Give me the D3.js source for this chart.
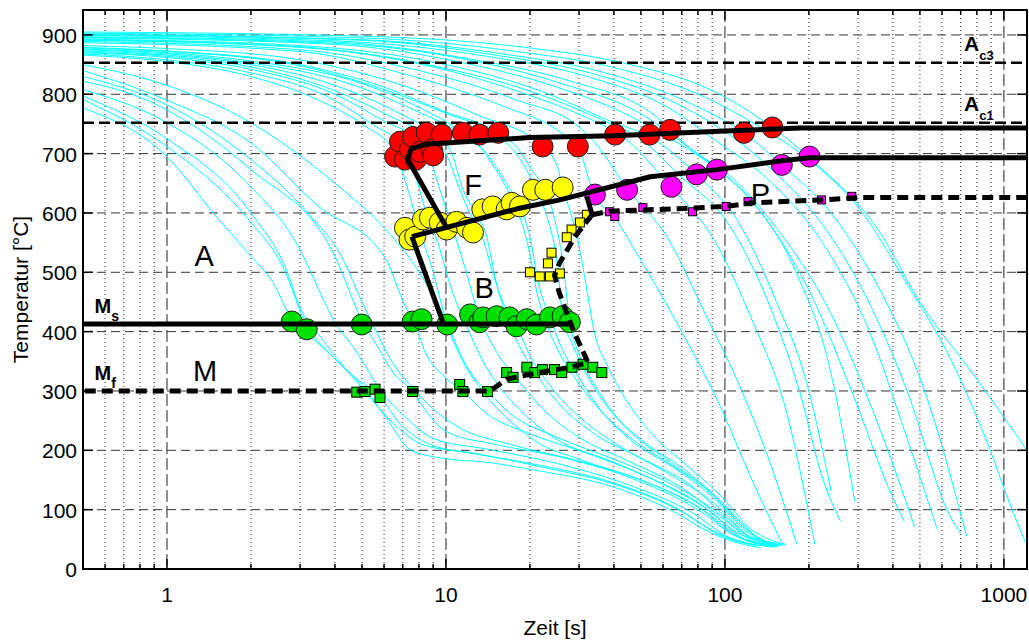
<!DOCTYPE html>
<html>
<head>
<meta charset="utf-8">
<script src="https://cdn.jsdelivr.net/npm/d3@7"></script>
<style>
body { margin: 0; background: #fff; }
svg { font-family: "Liberation Sans", Arial, sans-serif; }
</style>
</head>
<body>
<div id="chart"></div>
<script>
// ---- axes ----
var timeTicks = [1, 10, 100, 1000];
var tempTicks = [0, 100, 200, 300, 400, 500, 600, 700, 800, 900];
var xLabel = "Zeit [s]";
var yLabel = "Temperatur [°C]";

// ---- critical temperatures ----
var ac3 = 853;
var ac1 = 752;

// ---- measured points [time s, temperature °C] ----
var ferriteStartPts = [[6.57,695],[6.84,720],[7.13,690],[7.43,707],[7.62,728],[7.8,690],[8.06,703],[8.53,735],[8.91,707],[9.0,697],[9.66,732],[11.5,735],[13.2,732],[15.4,735],[22.2,712],[29.7,712],[40.4,732],[53.7,732],[63.6,740],[117,735],[148,744]];
var ferriteEndPts = [[7.13,575],[7.4,555],[7.76,560],[8.27,589],[8.76,592],[9.5,584],[10.06,572],[10.9,585],[11.9,575],[12.5,567],[13.5,606],[14.7,611],[16.5,606],[17.2,617],[18.4,611],[20.5,639],[22.7,639],[26.2,643]];
var pearliteStartPts = [[34.2,631],[44.6,639],[64.3,644],[79.2,665],[93.6,673],[160,681],[201,695]];
var pearliteEndPts = [[38.6,602],[40.3,594],[50.8,609],[76.5,602],[101,611],[121,619],[222,622],[285,628]];
var bainiteEndPts = [[32,597],[30.2,584],[28.2,572],[27.1,559],[23.9,533],[23.2,515],[20,500],[21.7,493],[23.6,493],[25.6,498]];
var martStartPts = [[2.8,417],[3.17,404],[4.99,412],[7.6,417],[8.18,421],[10.1,412],[12.2,429],[13.2,416],[13.6,424],[15.2,426],[16.9,424],[17.9,409],[19.5,421],[21.1,412],[23.6,424],[26.2,426],[27.8,416]];
var martEndPts = [[4.79,298],[5.12,299],[5.57,303],[5.8,289],[7.6,299],[11.2,311],[11.5,299],[14.1,299],[16.5,331],[17.4,323],[19.5,340],[20.8,331],[22.2,336],[24.5,336],[26,331],[28.3,340],[31,345],[33.6,340],[36.2,331]];

// ---- transformation lines ----
var fStartLine = [[10.0,577],[7.3,690],[7.5,708],[8.5,716],[10,718],[20,727],[40,730],[100,738],[186,743],[1210,743]];
var pStartLine = [[7.55,560],[18,607],[25.6,622],[54,661],[94,673],[160,688],[201,693],[1210,693]];
var pStartDrop = [[32,628],[33.4,597]];
var bStartLine = [[7.55,560],[9.8,413]];
var msLine = [[0.5,413],[28,413]];
var pFinishLine = [[33.4,597],[38.6,603],[58.5,606],[101,611],[125,617],[222,622],[305,626],[1210,626]];
var bFinishLine = [[33.4,597],[29,560],[25.5,515],[24.5,495],[25.5,465],[28.5,404],[32.3,348],[28,340],[22.7,333],[16.5,320],[14.4,300],[0.5,300]];

// ---- cooling curves [time s, temperature °C] ----
var coolingCurves = [
  [[0.5,777],[1,695],[1.5,594],[2,527],[2.4,483],[2.8,420],[3.4,385],[4.3,340],[5.2,300],[6.2,250],[7.5,200],[10,186],[14,180],[20,168],[40,138],[63,101],[90,60],[120,40],[135,36]],
  [[0.5,791],[1,712],[2,584],[2.6,510],[3.17,410],[3.8,365],[4.8,320],[5.6,298],[7,240],[9,208],[13,194],[22,172],[42,140],[68,100],[98,55],[130,39]],
  [[0.5,797],[1,725],[2,600],[2.7,500],[3.0,440],[3.5,395],[4.5,330],[5.1,300],[6.5,245],[8.2,210],[12,196],[20,178],[40,145],[65,106],[95,60],[128,40]],
  [[0.5,808],[1,752],[2,644],[3,538],[3.5,471],[3.9,425],[4.8,365],[5.8,303],[7.2,255],[9,220],[14,202],[25,178],[45,142],[75,97],[105,52],[150,37]],
  [[0.5,822],[0.8,795],[2,673],[4,527],[4.99,420],[5.6,380],[6.5,330],[7.6,299],[8.6,262],[10,232],[15,210],[25,190],[45,155],[80,100],[110,55],[155,40]],
  [[0.5,830],[1,782],[2,690],[3.2,600],[4.3,520],[5,450],[5.5,410],[6.3,355],[7.6,305],[9,270],[11,240],[17,210],[30,182],[52,147],[85,97],[115,52],[150,39]],
  [[0.5,840],[1,790],[2,718],[3.5,611],[6,527],[7.2,440],[7.7,415],[8.5,362],[10,322],[11.5,299],[14,262],[20,228],[32,195],[50,160],[80,112],[112,60],[160,40]],
  [[0.5,850],[1,815],[2,752],[4,650],[6,575],[7.5,520],[9,460],[10.1,415],[11.2,365],[12.5,325],[14.1,299],[17,262],[25,222],[40,185],[60,150],[90,102],[122,55],[165,42]],
  [[0.5,866],[1,855],[2,830],[3.5,790],[5,750],[6.6,700],[7.3,640],[8,575],[9,500],[10.1,412],[11.5,350],[13.5,300],[16.5,255],[21,215],[30,185],[50,150],[80,105],[110,55],[145,38]],
  [[0.5,868],[1,858],[2,836],[3.8,795],[5.5,748],[7,712],[7.8,660],[8.5,600],[9.2,560],[10.5,470],[11.8,412],[13.5,352],[15.5,308],[19,262],[25,218],[38,184],[58,146],[88,98],[118,50],[148,38]],
  [[0.5,870],[1,862],[2,842],[4,800],[6,755],[7.6,728],[8.8,690],[9.5,640],[10.3,590],[11.5,520],[13.2,424],[15,370],[18,320],[22,272],[30,222],[45,182],[70,137],[100,82],[130,43],[150,37]],
  [[0.5,871],[1,864],[2,846],[4,806],[6.5,760],[8.5,732],[10,700],[11,650],[12,606],[13.5,560],[14.7,500],[16,450],[17.9,409],[20,360],[24,305],[30,257],[42,207],[62,162],[92,110],[122,55],[152,39]],
  [[0.5,873],[1,866],[2,850],[4,815],[7,765],[9,735],[10.5,700],[11.5,640],[12.5,606],[14,560],[15.2,480],[16.5,424],[18.5,372],[21,330],[25,282],[33,232],[50,187],[75,142],[105,80],[135,42],[155,38]],
  [[0.5,875],[1,868],[2,853],[4.5,818],[8,770],[11,738],[13,715],[15,675],[17,630],[18.5,590],[20,530],[21.1,470],[22.5,424],[25,372],[29,322],[35,272],[45,224],[62,180],[88,130],[118,68],[150,40]],
  [[0.5,876],[1,870],[2,856],[5,818],[8,778],[11.5,735],[14,700],[16.5,650],[18.4,611],[20,560],[21.5,480],[23.6,424],[26,372],[30,322],[36,267],[46,217],[65,172],[90,122],[120,62],[150,40]],
  [[0.5,878],[1,872],[3,848],[6,808],[10,768],[14,740],[17.5,705],[19.5,672],[21.5,630],[23.5,580],[25,520],[26.2,426],[28.5,377],[32,327],[37,280],[46,230],[62,184],[85,137],[115,77],[145,42],[162,40]],
  [[0.5,879],[1,873],[3,850],[6,812],[10,770],[15.4,735],[18,710],[20.5,670],[22.7,639],[24.5,590],[26.2,520],[27.8,416],[30,362],[34,312],[40,262],[52,212],[72,167],[98,112],[128,56],[160,40]],
  [[0.5,882],[1,877],[3,858],[7,815],[13,765],[22.2,712],[25,680],[26.2,643],[28,600],[30,545],[32,470],[34,400],[38,342],[44,287],[55,227],[72,177],[95,127],[125,66],[165,41]],
  [[0.5,887],[3,872],[7,835],[16,780],[26,735],[29.7,712],[34,631],[40,594],[50,520],[70,400],[95,280],[125,150],[160,44]],
  [[0.5,889],[3,875],[8,840],[18,790],[30,745],[34,720],[45,639],[62,560],[85,430],[115,300],[150,160],[181,42]],
  [[0.5,891],[3,879],[9,846],[20,798],[34,755],[42,732],[64,644],[90,560],[125,420],[165,270],[210,42]],
  [[0.5,892],[3,880],[9,848],[21,802],[37,755],[48,730],[70,660],[100,590],[140,460],[185,300],[225,150],[260,80]],
  [[0.5,893],[3,882],[10,850],[22,805],[40,752],[54,728],[79,665],[110,590],[150,460],[200,300],[240,131]],
  [[0.5,895],[4,884],[11,855],[25,812],[45,765],[64,725],[94,673],[125,620],[180,500],[240,330],[292,114]],
  [[0.5,896],[4,886],[12,858],[26,818],[50,767],[72,715],[96,672],[135,600],[200,470],[290,290],[400,120],[440,80]],
  [[0.5,897],[4,888],[12,860],[28,822],[54,770],[79,700],[101,668],[150,580],[240,430],[350,250],[479,71]],
  [[0.5,899],[4,890],[14,864],[32,830],[64,775],[94,720],[140,660],[220,555],[330,400],[450,220],[577,67]],
  [[0.5,900],[5,891],[15,866],[34,834],[70,780],[105,730],[150,670],[220,585],[320,460],[450,300],[640,90],[700,60]],
  [[0.5,901],[5,892],[16,868],[36,838],[75,785],[117,735],[160,681],[240,600],[360,470],[520,300],[735,56]],
  [[0.5,903],[5,895],[18,872],[40,845],[85,795],[130,748],[200,690],[300,610],[450,480],[650,350],[890,202],[1050,110],[1195,45]],
  [[0.5,905],[5,898],[20,878],[43,853],[94,802],[148,744],[218,678],[354,572],[500,450],[800,320],[1210,200]]
];

// ---- phase labels [text, time, temperature] ----
var phaseLabels = [["A",1.36,528],["F",12.5,647],["B",13.7,474],["M",1.37,335],["P",134,632]];

var margin = { top: 10, right: 2, bottom: 73, left: 83 };
var canvas = { screenWidth: 1029, screenHeight: 642 };
var width = canvas.screenWidth - margin.left - margin.right;
var height = canvas.screenHeight - margin.top - margin.bottom;

var svg = d3.select("#chart").append("svg")
    .attr("width", canvas.screenWidth)
    .attr("height", canvas.screenHeight);

var chartGroup = svg.append("g")
    .attr("transform", `translate(${margin.left}, ${margin.top})`);

var xScale = d3.scaleLog().domain([0.5, 1210]).range([0, width]);
var yScale = d3.scaleLinear().domain([0, 942]).range([height, 0]);

svg.append("defs").append("clipPath").attr("id", "plotClip")
    .append("rect").attr("width", width).attr("height", height);

// minor decade positions (2..9)
var minorTicks = [];
[0.1, 1, 10, 100, 1000].forEach(function (dec) {
    for (var m = 2; m <= 9; m++) {
        var v = m * dec;
        if (v > 0.5 && v < 1210) minorTicks.push(v);
    }
});

// grid
var grid = chartGroup.append("g");
grid.selectAll(".vminor").data(minorTicks).enter().append("line")
    .attr("x1", d => xScale(d)).attr("x2", d => xScale(d))
    .attr("y1", 0).attr("y2", height)
    .attr("stroke", "#222").attr("stroke-width", 1)
    .attr("stroke-dasharray", "1,3");
grid.selectAll(".vmajor").data(timeTicks).enter().append("line")
    .attr("x1", d => xScale(d)).attr("x2", d => xScale(d))
    .attr("y1", 0).attr("y2", height)
    .attr("stroke", "#222").attr("stroke-width", 1)
    .attr("stroke-dasharray", "12,4");
grid.selectAll(".hmajor").data(tempTicks.slice(1)).enter().append("line")
    .attr("x1", 0).attr("x2", width)
    .attr("y1", d => yScale(d)).attr("y2", d => yScale(d))
    .attr("stroke", "#333").attr("stroke-width", 1)
    .attr("stroke-dasharray", "9,5");

var plot = chartGroup.append("g").attr("clip-path", "url(#plotClip)");

// cooling curves
var curveLine = d3.line()
    .x(d => xScale(d[0]))
    .y(d => yScale(d[1]))
    .curve(d3.curveMonotoneX);

plot.selectAll(".cool").data(coolingCurves).enter().append("path")
    .attr("d", curveLine)
    .attr("fill", "none")
    .attr("stroke", "#00ffff")
    .attr("stroke-width", 1);

// Ac3 / Ac1
plot.selectAll(".ac").data([ac3, ac1]).enter().append("line")
    .attr("x1", 0).attr("x2", width)
    .attr("y1", d => yScale(d)).attr("y2", d => yScale(d))
    .attr("stroke", "#000").attr("stroke-width", 2.5)
    .attr("stroke-dasharray", "11,5");

// markers
function circles(pts, fill) {
    plot.append("g").selectAll("circle").data(pts).enter().append("circle")
        .attr("cx", d => xScale(d[0]))
        .attr("cy", d => yScale(d[1]))
        .attr("r", 10.5)
        .attr("fill", fill)
        .attr("stroke", "#1a1a1a")
        .attr("stroke-width", 1);
}
function squares(pts, fill, size) {
    plot.append("g").selectAll("rect").data(pts).enter().append("rect")
        .attr("x", d => xScale(d[0]) - size / 2)
        .attr("y", d => yScale(d[1]) - size / 2)
        .attr("width", size).attr("height", size)
        .attr("fill", fill)
        .attr("stroke", "#000")
        .attr("stroke-width", 1);
}
circles(martStartPts, "#00e000");
circles(ferriteStartPts, "#ff0000");
circles(ferriteEndPts, "#ffff00");
circles(pearliteStartPts, "#ff00ff");
squares(martEndPts, "#00e000", 10);
squares(bainiteEndPts, "#ffff00", 9);
squares(pearliteEndPts, "#ff00ff", 8);

// transformation lines
var poly = d3.line().x(d => xScale(d[0])).y(d => yScale(d[1]));
[fStartLine, pStartLine, pStartDrop, bStartLine, msLine].forEach(function (pts) {
    plot.append("path").attr("d", poly(pts))
        .attr("fill", "none").attr("stroke", "#000")
        .attr("stroke-width", 5).attr("stroke-linejoin", "round");
});
[pFinishLine, bFinishLine].forEach(function (pts) {
    plot.append("path").attr("d", poly(pts))
        .attr("fill", "none").attr("stroke", "#000")
        .attr("stroke-width", 5).attr("stroke-dasharray", "11,6");
});

// phase labels
plot.selectAll(".phase").data(phaseLabels).enter().append("text")
    .attr("x", d => xScale(d[1]))
    .attr("y", d => yScale(d[2]))
    .attr("dy", "0.36em")
    .attr("text-anchor", "middle")
    .attr("font-size", 29)
    .text(d => d[0]);

// subscripted labels
function subLabel(main, sub, px, py, size, subSize) {
    var t = plot.append("text").attr("x", px).attr("y", py)
        .attr("font-size", size).attr("font-weight", "bold");
    t.append("tspan").text(main);
    t.append("tspan").attr("font-size", subSize).attr("dy", size * 0.42).text(sub);
}
subLabel("M", "s", xScale(0.55), yScale(413) - 11, 20, 14);
subLabel("M", "f", xScale(0.55), yScale(300) - 11, 20, 14);
subLabel("A", "c3", xScale(720), yScale(ac3) - 12, 21, 13);
subLabel("A", "c1", xScale(720), yScale(ac1) - 12, 21, 13);

// frame and ticks
chartGroup.append("rect").attr("width", width).attr("height", height)
    .attr("fill", "none").attr("stroke", "#000").attr("stroke-width", 2);

var ticks = chartGroup.append("g").attr("stroke", "#000").attr("stroke-width", 1.5);
tempTicks.forEach(function (v) {
    ticks.append("line").attr("x1", 0).attr("x2", 10).attr("y1", yScale(v)).attr("y2", yScale(v));
    ticks.append("line").attr("x1", width - 10).attr("x2", width).attr("y1", yScale(v)).attr("y2", yScale(v));
});
timeTicks.forEach(function (v) {
    ticks.append("line").attr("x1", xScale(v)).attr("x2", xScale(v)).attr("y1", height).attr("y2", height - 10);
    ticks.append("line").attr("x1", xScale(v)).attr("x2", xScale(v)).attr("y1", 0).attr("y2", 10);
});
minorTicks.forEach(function (v) {
    ticks.append("line").attr("x1", xScale(v)).attr("x2", xScale(v)).attr("y1", height).attr("y2", height - 5);
    ticks.append("line").attr("x1", xScale(v)).attr("x2", xScale(v)).attr("y1", 0).attr("y2", 5);
});

// tick labels
chartGroup.selectAll(".ylab").data(tempTicks).enter().append("text")
    .attr("x", -6).attr("y", d => yScale(d) + 8)
    .attr("text-anchor", "end").attr("font-size", 21)
    .text(d => d);
chartGroup.selectAll(".xlab").data(timeTicks).enter().append("text")
    .attr("x", d => xScale(d)).attr("y", height + 33)
    .attr("text-anchor", "middle").attr("font-size", 21)
    .text(d => d);

// axis titles
chartGroup.append("text")
    .attr("x", xScale(Math.sqrt(0.5 * 1210))).attr("y", height + 66)
    .attr("text-anchor", "middle").attr("font-size", 21)
    .text(xLabel);
chartGroup.append("text")
    .attr("transform", `translate(${-margin.left + 28}, ${height / 2}) rotate(-90)`)
    .attr("text-anchor", "middle").attr("font-size", 21)
    .text(yLabel);
</script>
</body>
</html>
